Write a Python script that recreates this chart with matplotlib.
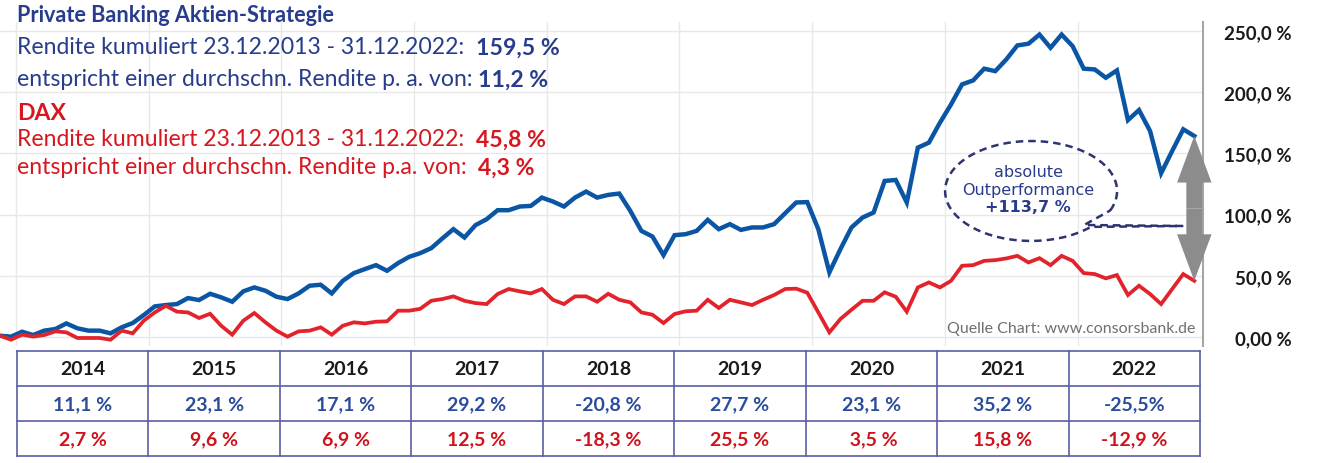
import numpy as np
import matplotlib
matplotlib.use('Agg')
import matplotlib.pyplot as plt

plt.rcParams['font.family'] = ['Lato', 'DejaVu Sans']

NAVY = '#283C8C'
RED_TXT = '#D7171F'
BLUE_LINE = '#0B56A4'
RED_LINE = '#E3232C'

# monthly values, cumulative return in %, from 23.12.2013 onwards
strategy = [1, 0.3, 4.3, 1.6, 5.2, 6.5, 11.1, 7.1, 5.2, 5.2, 3, 7.9,
            11.4, 17.9, 25, 26.1, 26.9, 31.8, 30.2, 35.3, 32.4, 28.8, 37.3, 40.5,
            37.8, 32.9, 31, 35.6, 41.9, 42.7, 35.6, 45.9, 52.2, 55.5, 58.7, 54.1,
            60.4, 65.5, 68.5, 72.6, 80.5, 88.1, 81.3, 91.4, 96.2, 103.6, 103.6, 106.6,
            107.1, 113.9, 110.7, 106.6, 113.9, 118.8, 113.9, 116.1, 117.2, 103, 86.7, 82.1,
            66.9, 83.2, 84, 86.7, 95.7, 88.1, 92.2, 87.5, 89.5, 89.5, 92.2, 101.1,
            109.9, 110.2, 88.1, 52.8, 71.8, 89.5, 97.6, 101.7, 127.5, 128.3, 109.9, 154.7,
            158.8, 175.1, 190, 206.4, 209.6, 219.2, 217.2, 226.8, 238.2, 239.6, 247.1, 236.3,
            247.1, 237.6, 219.2, 218.6, 211.8, 217.8, 177.2, 185.4, 168.3, 133.8, 152, 169.7,
            164.2]
dax = [1, -2.2, 1.9, 0.3, 1.6, 4.6, 3.8, -0.8, -0.8, -0.8, -2.2, 5.2,
       3, 13.3, 20.1, 25.5, 20.7, 20.1, 15.5, 19, 9.2, 1.9, 13.3, 19.6,
       12, 5.2, 0.3, 4.6, 5.2, 7.9, 1.9, 9.2, 12, 11.1, 12.5, 12.8,
       21.5, 21.5, 23, 29.6, 31, 33.2, 29.6, 27.7, 26.9, 35.1, 39.2, 37.3,
       35.6, 39.2, 30.4, 26.9, 33.2, 33.2, 28.8, 35.3, 30.4, 28.3, 20.1, 18.2,
       11.4, 18.8, 21, 21.5, 30.4, 23.7, 30.4, 28.3, 26.1, 30.4, 34.3, 39.2,
       39.5, 36.2, 20.1, 3.8, 14.7, 22.3, 29.6, 29.6, 36.5, 32.9, 20.7, 40.5,
       44.6, 40.5, 45.9, 58.2, 58.7, 62.2, 62.8, 64.2, 66.3, 60.9, 64.4, 58.7,
       66.3, 62.2, 52.2, 51.4, 47.9, 50.6, 34.3, 41.9, 35.1, 26.9, 39.2, 51.4,
       45.9]

years = [2014, 2015, 2016, 2017, 2018, 2019, 2020, 2021, 2022]
pb_year = ['11,1 %', '23,1 %', '17,1 %', '29,2 %', '-20,8 %', '27,7 %', '23,1 %', '35,2 %', '-25,5%']
dax_year = ['2,7 %', '9,6 %', '6,9 %', '12,5 %', '-18,3 %', '25,5 %', ' 3,5 %', '15,8 %', '-12,9 %']

yticks = [0, 50, 100, 150, 200, 250]
ylabels = ['0,00 %', '50,0 %', '100,0 %', '150,0 %', '200,0 %', '250,0 %']

start = 2013.88
x = start + np.arange(len(strategy)) / 12

W, H = 1317, 464
fig = plt.figure(figsize=(W / 100, H / 100), dpi=100)

ax = fig.add_axes([0, 117 / H, 1203 / W, 324 / H])
ax.plot(x, strategy, color=BLUE_LINE, lw=3.2, solid_joinstyle='miter', zorder=3)
ax.plot(x, dax, color=RED_LINE, lw=2.7, solid_joinstyle='miter', zorder=3)
ax.set_xlim(start, start + 1203 / 132.7)
ax.set_ylim(-7.35, 257.35)
ax.set_xticks(years)
ax.set_yticks(yticks)
ax.set_yticklabels(ylabels)
ax.grid(True, color='#E8E8E8', lw=1)
ax.set_axisbelow(True)
for s in ['top', 'left', 'bottom']:
    ax.spines[s].set_visible(False)
ax.spines['right'].set_color('#A6A6A6')
ax.spines['right'].set_linewidth(1.5)
ax.yaxis.tick_right()
ax.tick_params(axis='x', length=0, labelbottom=False)
ax.tick_params(axis='y', length=0, pad=64, labelsize=13.5, labelcolor='#1A1A1A')
for lab in ax.get_yticklabels():
    lab.set_horizontalalignment('right')
    lab.set_fontweight('bold')

# outperformance bubble
cx, cy, a, b = 2021.65, 119.3, 0.648, 40.8
t = np.radians(np.linspace(-23, 314, 200))
bx = list(cx + a * np.cos(t)) + [2022.79, 2022.05, cx + a * np.cos(np.radians(-23))]
by = list(cy + b * np.sin(t)) + [90.7, 91.5, cy + b * np.sin(np.radians(-23))]
ax.plot(bx, by, color='#2E3470', lw=1.8, ls=(0, (3, 2)), zorder=4)
ax.text(2021.627, 135, 'absolute', ha='center', va='center', color=NAVY,
        fontsize=11.5, family='DejaVu Sans')
ax.text(2021.627, 120.5, 'Outperformance', ha='center', va='center', color=NAVY,
        fontsize=11.5, family='DejaVu Sans')
ax.text(2021.627, 107, '+113,7 %', ha='center', va='center', color=NAVY,
        fontsize=11.5, family='DejaVu Sans', weight='bold')

# grey double arrow between the two end values
mid = (strategy[-1] + dax[-1]) / 2
for end in (strategy[-1], dax[-1]):
    ax.arrow(x[-1], mid, 0, end - mid, width=0.12, head_width=0.26, head_length=38,
             length_includes_head=True, color='#8C8C8C', lw=0, clip_on=False, zorder=5)

ax.text(x[-1] + 0.01, 7.4, 'Quelle Chart: www.consorsbank.de', ha='right', va='center',
        color='#707070', fontsize=11.5)

# header text
def text_line(y_px, parts, color, size):
    first, w0 = parts[0]
    t = fig.text(17 / W, 1 - y_px / H, first, color=color, fontsize=size, weight=w0, va='center')
    for s, w in parts[1:]:
        t = ax.annotate(s, xy=(1, 0), xycoords=t, va='bottom', ha='left',
                        color=color, fontsize=size, weight=w)

text_line(16, [('Private Banking Aktien-Strategie', 'bold')], NAVY, 15.6)
text_line(48, [('Rendite kumuliert 23.12.2013 - 31.12.2022:  ', 'normal'), ('159,5 %', 'bold')], NAVY, 16.6)
text_line(80, [('entspricht einer durchschn. Rendite p. a. von: ', 'normal'), ('11,2 %', 'bold')], NAVY, 16.6)
text_line(113, [('DAX', 'bold')], RED_TXT, 16.6)
text_line(140, [('Rendite kumuliert 23.12.2013 - 31.12.2022:  ', 'normal'), ('45,8 %', 'bold')], RED_TXT, 16.6)
text_line(168, [('entspricht einer durchschn. Rendite p.a. von:  ', 'normal'), ('4,3 %', 'bold')], RED_TXT, 16.6)

# yearly returns table
tab = fig.add_axes([17 / W, 7 / H, 1183 / W, 105 / H])
tab.set_xlim(0, len(years))
tab.set_ylim(0, 3)
tab.axis('off')
lc = '#5B5EA6'
for r in range(4):
    tab.axhline(r, color=lc, lw=1.2, clip_on=False)
for c in range(len(years) + 1):
    tab.axvline(c, color=lc, lw=1.2, clip_on=False)
for i, yr in enumerate(years):
    tab.text(i + 0.5, 2.5, str(yr), ha='center', va='center', color='#1A1A1A',
             fontsize=14, weight='bold')
    tab.text(i + 0.5, 1.5, pb_year[i], ha='center', va='center', color='#2B4B9B',
             fontsize=14, weight='bold')
    tab.text(i + 0.5, 0.5, dax_year[i], ha='center', va='center', color='#D0121B',
             fontsize=14, weight='bold')

fig.savefig('out.png', dpi=100)
